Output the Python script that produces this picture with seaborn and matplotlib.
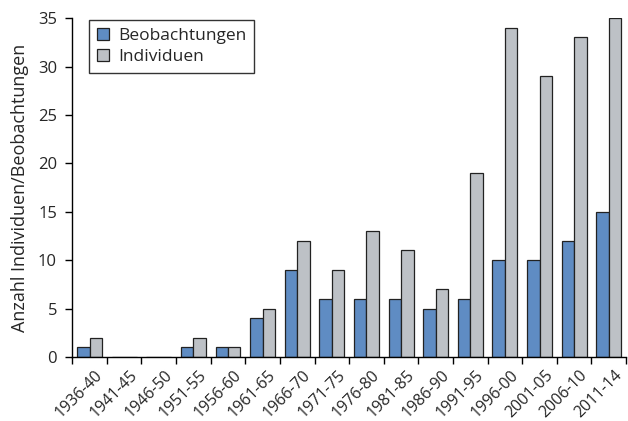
import numpy as np
import pandas as pd
import matplotlib
matplotlib.use("Agg")
import matplotlib.pyplot as plt
import seaborn as sns

# Daten
perioden = ["1936-40", "1941-45", "1946-50", "1951-55", "1956-60", "1961-65",
            "1966-70", "1971-75", "1976-80", "1981-85", "1986-90", "1991-95",
            "1996-00", "2001-05", "2006-10", "2011-14"]
beobachtungen = [1, 0, 0, 1, 1, 4, 9, 6, 6, 6, 5, 6, 10, 10, 12, 15]
individuen = [2, 0, 0, 2, 1, 5, 12, 9, 13, 11, 7, 19, 34, 29, 33, 35]

df = pd.DataFrame({
    "Periode": perioden * 2,
    "Anzahl": beobachtungen + individuen,
    "Serie": ["Beobachtungen"] * len(perioden) + ["Individuen"] * len(perioden),
})

sns.set_style("ticks")
plt.rcParams["font.family"] = ["Open Sans", "DejaVu Sans"]

fig = plt.figure(figsize=(6.28, 4.21), dpi=100)
ax = fig.add_axes([0.115, 0.152, 0.882, 0.805])

sns.barplot(data=df, x="Periode", y="Anzahl", hue="Serie", order=perioden,
            palette=["#5f8cc3", "#bdc1c6"], width=0.72, edgecolor="#222222",
            linewidth=0.9, ax=ax, saturation=1)

ax.set_ylim(0, 35)
ax.set_xlim(-0.5, len(perioden) - 0.5)
ax.set_yticks(np.arange(0, 36, 5))
ax.tick_params(axis="y", labelsize=12, length=5, width=1, color="black", pad=6)

# Striche an den Kategoriegrenzen, Beschriftung in der Mitte
ax.set_xticks(np.arange(-0.5, len(perioden), 1))
ax.set_xticklabels([])
ax.set_xticks(np.arange(len(perioden)) + 0.15, minor=True)
ax.set_xticklabels(perioden, minor=True, rotation=45, ha="right",
                   rotation_mode="anchor", fontsize=11.5)
ax.tick_params(axis="x", which="major", length=5, width=1, color="black")
ax.tick_params(axis="x", which="minor", length=0, pad=7)

ax.set_xlabel("")
ax.set_ylabel("Anzahl Individuen/Beobachtungen", fontsize=13, labelpad=6)
sns.despine(ax=ax)
for s in ["left", "bottom"]:
    ax.spines[s].set_linewidth(1)
    ax.spines[s].set_color("black")

leg = ax.legend(loc="upper left", bbox_to_anchor=(0.031, 0.995), fontsize=12.5,
                frameon=True, fancybox=False, handlelength=0.7,
                handleheight=0.7, handletextpad=0.5, borderpad=0.45,
                labelspacing=0.3, borderaxespad=0)
leg.get_frame().set_edgecolor("black")
leg.get_frame().set_linewidth(1)

fig.savefig("out.png", dpi=100)
